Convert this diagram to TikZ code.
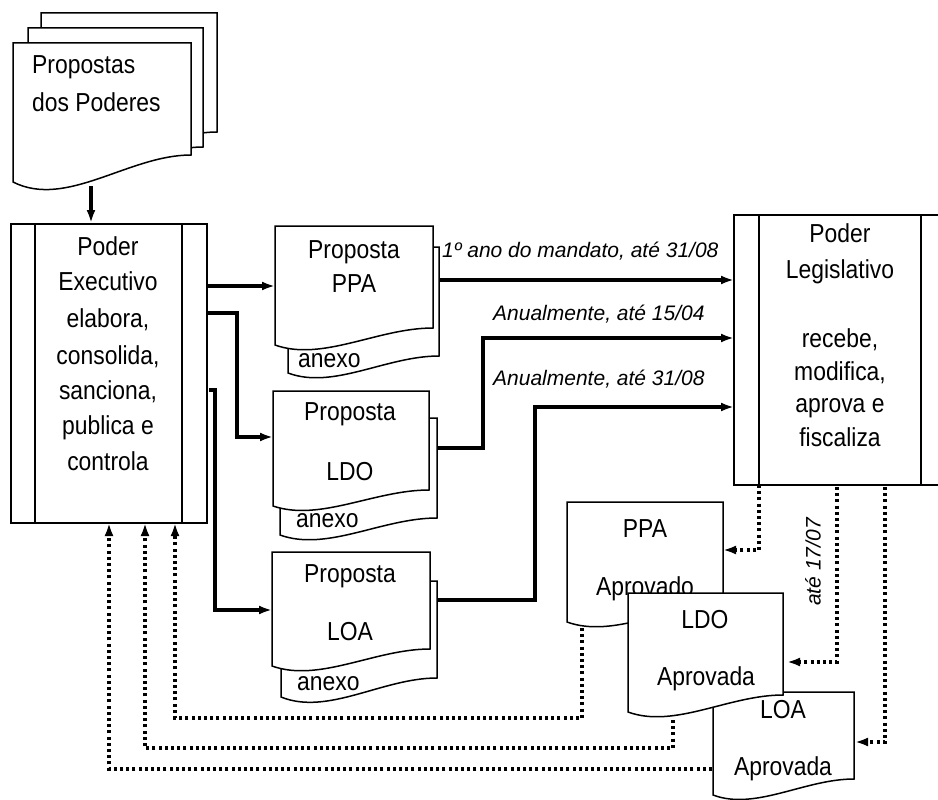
\documentclass[tikz,border=0pt]{standalone}
\usepackage{fontspec}
\setmainfont{Liberation Sans}
\newfontfamily\narrowfont[FakeStretch=0.88]{Liberation Sans}
\usetikzlibrary{arrows.meta}
\newcommand\docshape[6]{% name, x1, y1, x2, yr, yl
  \path[box] (#2,#6) -- (#2,#3) -- (#4,#3) -- (#4,#5)
    .. controls ({#4-0.35*(#4-#2)},#5) and ({#2+0.3*(#4-#2)},{#6+(#6-#5)}) .. (#2,#6) -- cycle;
  \coordinate (#1) at ({(#2+#4)/2},#3);}
\begin{document}
\begin{tikzpicture}[x=1pt,y=-1pt,
  box/.style={draw=black, line width=1.5pt, fill=white},
  flow/.style={line width=3.2pt, -{Latex[length=13pt,width=9pt]}},
  back/.style={line width=3.2pt, dash pattern=on 3pt off 3.2pt, -{Latex[length=13pt,width=9pt]}},
  lbl/.style={font=\narrowfont\fontsize{26}{30}\selectfont, anchor=base, inner sep=0pt},
  lblw/.style={font=\narrowfont\fontsize{26}{30}\selectfont, anchor=base west, inner sep=0pt},
  note/.style={font=\fontsize{21}{25}\selectfont\itshape, anchor=base west, inner sep=0pt}]
\useasboundingbox[fill=white] (0,0) rectangle (938,800);

% Propostas dos Poderes (stack)
\docshape{prop3}{41}{13}{217}{132}{159}
\docshape{prop2}{28}{28}{203}{147}{174}
\docshape{prop1}{13}{43}{191}{155}{182}
\node[lblw] (tprop1) at (32,74) {Propostas};
\node[lblw] (tprop2) at (32,111) {dos Poderes};

% Poder Executivo
\node[box, minimum width=196pt, minimum height=299pt, anchor=north west, inner sep=0pt] (exec) at (10,223) {};
\draw[line width=1.5pt] (35,223) -- (35,522);
\draw[line width=1.5pt] (182,223) -- (182,522);
\node[lbl] (e1) at (108,255) {Poder};
\node[lbl] (e2) at (108,290) {Executivo};
\node[lbl] (e3) at (108,327) {elabora,};
\node[lbl] (e4) at (108,364) {consolida,};
\node[lbl] (e5) at (108,399) {sanciona,};
\node[lbl] (e6) at (108,434) {publica e};
\node[lbl] (e7) at (108,470) {controla};

% Poder Legislativo
\node[box, minimum width=212pt, minimum height=270pt, anchor=north west, inner sep=0pt] (leg) at (733,214) {};
\draw[line width=1.5pt] (759,214) -- (759,484);
\draw[line width=1.5pt] (921,214) -- (921,484);
\node[lbl] (l1) at (840,242) {Poder};
\node[lbl] (l2) at (840,278) {Legislativo};
\node[lbl] (l3) at (840,347) {recebe,};
\node[lbl] (l4) at (840,380) {modifica,};
\node[lbl] (l5) at (840,412) {aprova e};
\node[lbl] (l6) at (840,446) {fiscaliza};

% Proposta PPA
\docshape{ppaB}{288}{247}{439}{356}{373}
\docshape{ppaF}{275}{226}{433}{328}{345}
\node[lbl] (tppa1) at (354,258) {Proposta};
\node[lbl] (tppa2) at (354,292) {PPA};
\node[lblw] (tppa3) at (298,367) {anexo};

% Proposta LDO
\docshape{ldoB}{280}{418}{437}{518}{535}
\docshape{ldoF}{273}{391}{429}{490}{506}
\node[lbl] (tldo1) at (350,420) {Proposta};
\node[lbl] (tldo2) at (350,480) {LDO};
\node[lblw] (tldo3) at (296,527) {anexo};

% Proposta LOA
\docshape{loaB}{281}{581}{437}{678}{697}
\docshape{loaF}{272}{552}{430}{649}{666}
\node[lbl] (tloa1) at (350,582) {Proposta};
\node[lbl] (tloa2) at (350,640) {LOA};
\node[lblw] (tloa3) at (297,690) {anexo};

% Approved documents
\docshape{appa}{567}{502}{723}{605}{622}
\node[lbl] (tappa1) at (645,537) {PPA};
\node[lbl] (tappa2) at (645,595) {Aprovado};
\docshape{aloa}{713}{692}{854}{779}{795}
\node[lbl] (taloa1) at (783,718) {LOA};
\node[lbl] (taloa2) at (783,775) {Aprovada};
\docshape{aldo}{628}{593}{783}{695}{712}
\node[lbl] (taldo1) at (705,628) {LDO};
\node[lbl] (taldo2) at (706,685) {Aprovada};

% connector coordinates
\coordinate (propOut) at (91,186);
\coordinate (execIn) at (91,223);
\coordinate (eo1) at (207,286);
\coordinate (ppaIn) at (275,286);
\coordinate (eo2) at (207,313);
\coordinate (ldoIn) at (273,437);
\coordinate (eo3) at (209,390);
\coordinate (loaIn) at (272,610);
\coordinate (ppaOut) at (439,280);
\coordinate (legIn1) at (734,280);
\coordinate (ldoOut) at (437,448);
\coordinate (legIn2) at (734,338);
\coordinate (loaOut) at (437,600);
\coordinate (legIn3) at (734,407);
\coordinate (lo1) at (759,485);
\coordinate (appaIn) at (723,550);
\coordinate (lo2) at (837,487);
\coordinate (aldoIn) at (787,662);
\coordinate (lo3) at (885,487);
\coordinate (aloaIn) at (855,742);
\coordinate (appaOut) at (582,628);
\coordinate (aldoOut) at (673,720);
\coordinate (aloaOut) at (712,769);
\coordinate (ei1) at (175,523);
\coordinate (ei2) at (145,523);
\coordinate (ei3) at (109,523);

% solid flows
\draw[flow] (propOut) -- (execIn);
\draw[flow] (eo1) -- (ppaIn);
\draw[flow] (eo2) -| (237,437) -- (ldoIn);
\draw[flow] (eo3) -| (215,610) -- (loaIn);
\draw[flow] (ppaOut) -- (legIn1);
\draw[flow] (ldoOut) -| (483,338) -- (legIn2);
\draw[flow] (loaOut) -| (535,407) -- (legIn3);

% labels
\node[note] (n1) at (442,257) {1º ano do mandato, até 31/08};
\node[note] (n2) at (493,320) {Anualmente, até 15/04};
\node[note] (n3) at (493,385) {Anualmente, até 31/08};
\node[font=\fontsize{21}{25}\selectfont\itshape, rotate=90, inner sep=0pt] (n4) at (813,562) {até  17/07};

% dotted returns
\draw[back] (lo1) |- (appaIn);
\draw[back] (lo2) |- (aldoIn);
\draw[back] (lo3) |- (aloaIn);
\draw[back] (appaOut) |- (175,718) -- (ei1);
\draw[back] (aldoOut) |- (145,748) -- (ei2);
\draw[back] (aloaOut) -| (ei3);
\end{tikzpicture}
\end{document}
